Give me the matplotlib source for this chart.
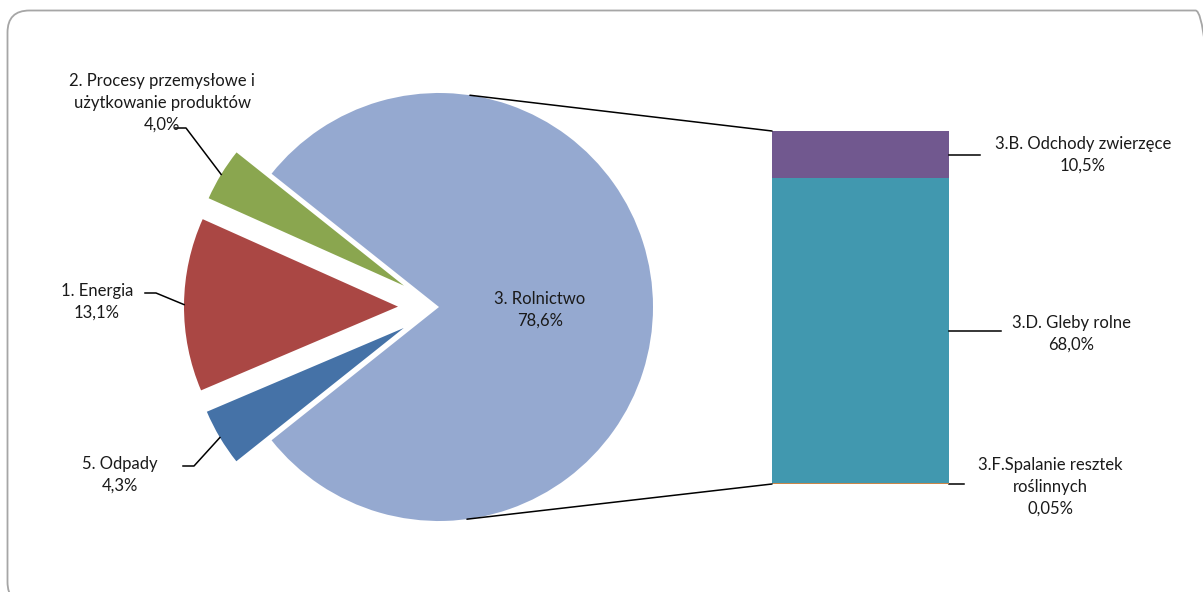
import numpy as np
import matplotlib
matplotlib.use('Agg')
import matplotlib.pyplot as plt
from matplotlib.patches import ConnectionPatch, FancyBboxPatch

plt.rcParams['font.family'] = ['Lato', 'DejaVu Sans']

# Dane - wykres kołowy
pie_labels = ['3. Rolnictwo', '2. Procesy przemysłowe i\nużytkowanie produktów',
              '1. Energia', '5. Odpady']
pie_values = [78.6, 4.0, 13.1, 4.3]
pie_text = ['78,6%', '4,0%', '13,1%', '4,3%']
pie_colors = ['#95A9D0', '#8AA64F', '#AA4744', '#4572A7']

# Dane - słupek (od dołu do góry)
bar_labels = ['3.F.Spalanie resztek\nroślinnych', '3.D. Gleby rolne', '3.B. Odchody zwierzęce']
bar_values = [0.05, 68.0, 10.5]
bar_text = ['0,05%', '68,0%', '10,5%']
bar_colors = ['#DB843D', '#4198AF', '#71588F']

W, H = 1203, 592
TXT = '#1a1a1a'
FS = 12


def main():
    fig = plt.figure(figsize=(W / 100, H / 100), dpi=100)
    ax = fig.add_axes([0, 0, 1, 1])

    # Koło
    start = -pie_values[0] / sum(pie_values) * 180
    wedges, _ = ax.pie(pie_values, colors=pie_colors, startangle=start,
                       center=(439, H - 307), radius=214,
                       explode=[0, 41, 41, 41],
                       wedgeprops=dict(linewidth=0))
    ax.set_xlim(0, W)
    ax.set_ylim(0, H)
    ax.set_aspect('equal')
    ax.axis('off')

    # Etykieta wewnątrz dużego wycinka
    ax.text(540, H - 310, pie_labels[0] + '\n' + pie_text[0], ha='center', va='center',
            fontsize=FS, color=TXT, linespacing=1.45)

    # Etykiety małych wycinków z liniami odniesienia
    lab_pos = [(162, 103), (97, 302), (120, 475)]
    lead_start = [(175, 128), (145, 293), (183, 466)]
    for i, w in enumerate(wedges[1:]):
        tm = np.deg2rad((w.theta1 + w.theta2) / 2)
        ex = w.center[0] + w.r * np.cos(tm)
        ey = w.center[1] + w.r * np.sin(tm)
        sx, sy = lead_start[i]
        ax.plot([sx, sx + 11, ex], [H - sy, H - sy, ey], color='black', lw=1.1)
        ax.text(lab_pos[i][0], H - lab_pos[i][1], pie_labels[i + 1] + '\n' + pie_text[i + 1],
                ha='center', va='center', fontsize=FS, color=TXT, linespacing=1.45)

    # Słupek
    axb = fig.add_axes([772 / W, (H - 484) / H, 177 / W, 353 / H])
    bottom = 0
    mids = []
    for v, c in zip(bar_values, bar_colors):
        small = v < 1
        axb.bar(0, v, width=1, bottom=bottom, color=c, edgecolor=c,
                linewidth=2 if small else 0, zorder=3 if small else 2)
        mids.append(bottom + v / 2)
        bottom += v
    axb.set_xlim(-0.5, 0.5)
    axb.set_ylim(0, bottom)
    axb.axis('off')

    # Etykiety słupka (linie poziome od krawędzi słupka)
    lead_len = [15, 52, 31]
    offs = [(73, -2), (88, -2), (96.5, 0)]
    for lab, t, m, ln, (dx, dy) in zip(bar_labels, bar_text, mids, lead_len, offs):
        axb.plot([0.5, 0.5 + ln / 177], [m, m], color='black', lw=1.1, clip_on=False)
        axb.annotate(lab + '\n' + t, xy=(0.5, m), xytext=(dx, dy), textcoords='offset points',
                     ha='center', va='center', fontsize=FS, color=TXT, linespacing=1.45,
                     annotation_clip=False)

    # Linie łączące koło ze słupkiem
    big = wedges[0]
    for ang, yb in [(81.7, bottom), (-82.5, 0)]:
        px = big.center[0] + big.r * np.cos(np.deg2rad(ang))
        py = big.center[1] + big.r * np.sin(np.deg2rad(ang))
        con = ConnectionPatch(xyA=(-0.5, yb), coordsA=axb.transData,
                              xyB=(px, py), coordsB=ax.transData,
                              color='black', linewidth=1.1)
        fig.add_artist(con)

    # Zaokrąglona ramka
    frame = FancyBboxPatch((7.5, -12), 1210, H - 10.5 + 12,
                           boxstyle='round,pad=0,rounding_size=22',
                           facecolor='none', edgecolor='#A6A6A6', linewidth=1.3)
    ax.add_patch(frame)

    fig.savefig('out.png', dpi=100)


if __name__ == "__main__":
    main()
